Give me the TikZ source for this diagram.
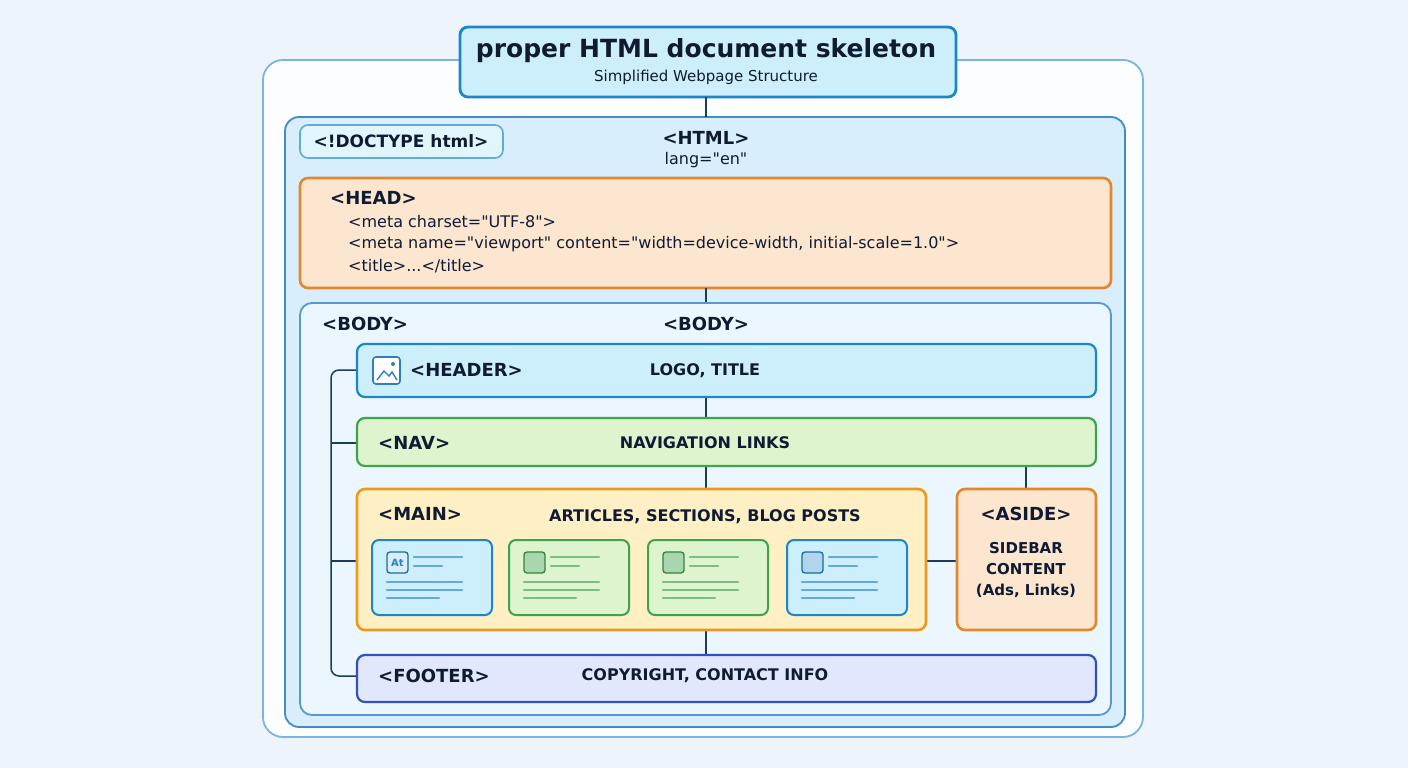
\documentclass[tikz,border=0pt]{standalone}
\usepackage{fontspec}
\setmainfont{DejaVu Sans}[Ligatures=ResetAll]
\usetikzlibrary{positioning}
\definecolor{bg}{HTML}{EEF4FB}
\definecolor{dark}{HTML}{0F1B33}
\definecolor{blueB}{HTML}{2E7FC0}
\definecolor{blueF}{HTML}{D8EEFC}
\definecolor{cyanF}{HTML}{CDEFFC}
\definecolor{cyanB}{HTML}{1E86C8}
\definecolor{orB}{HTML}{E3872E}
\definecolor{orF}{HTML}{FDE6CF}
\definecolor{grB}{HTML}{3FA34D}
\definecolor{grF}{HTML}{DDF4CF}
\definecolor{yeF}{HTML}{FEF0C4}
\definecolor{yeB}{HTML}{EC9A1E}
\definecolor{ftF}{HTML}{E1E7FD}
\definecolor{ftB}{HTML}{3350C0}
\definecolor{lineC}{HTML}{1D3C5C}
\newcommand\qq{\textquotedbl}
\tikzset{x=1pt,y=-1pt,
 box/.style={rounded corners=8pt,line width=2.2pt},
 t/.style={text=dark,font=\bfseries\fontsize{18}{21}\selectfont,inner sep=0},
 s/.style={text=dark,font=\fontsize{16}{19}\selectfont,inner sep=0},
 c/.style={text=dark,font=\bfseries\fontsize{16}{19}\selectfont,inner sep=0},
 conn/.style={draw=lineC,line width=1.5pt},
 card/.style={rounded corners=7pt,line width=2pt},
 cl/.style={line width=2.5pt,line cap=round}}
\begin{document}
\begin{tikzpicture}
\useasboundingbox (0,0) rectangle (1408,768);
\fill[bg] (0,0) rectangle (1408,768);
% outer
\draw[rounded corners=20pt,line width=1.8pt,draw=cyanB!60,fill=white!85!bg] (263,60) rectangle (1143,737);
% html
\draw[box,draw=blueB!90,fill=blueF,line width=1.8pt,rounded corners=14pt] (285,117) rectangle (1125,727);
\node[coordinate] (htmltop) at (706,117) {};
% title
\draw[box,draw=cyanB,fill=cyanF,line width=2.8pt] (460,27) rectangle (956,97);
\node[coordinate] (titlebot) at (706,97) {};
\node[text=dark,font=\bfseries\fontsize{25}{30}\selectfont,inner sep=0] (title) at (706,51) {proper HTML document skeleton};
\node[s,font=\fontsize{15}{19}\selectfont] (sub) at (706,77) {Simplified Webpage Structure};
\draw[conn] (titlebot) -- (htmltop);
% doctype
\draw[box,draw=cyanB!70,fill=cyanF!60,line width=1.6pt] (300,125) rectangle (503,158);
\node[t,font=\bfseries\fontsize{17}{20}\selectfont] (doctype) at (401,141) {<!DOCTYPE html>};
\node[t] (html) at (706,138) {<HTML>};
\node[s] (lang) at (706,160) {lang=\qq en\qq};
% head
\draw[box,draw=orB,fill=orF,line width=2.6pt] (300,178) rectangle (1111,288);
\node[t,anchor=west] (head) at (330,198) {<HEAD>};
\node[s,anchor=west] (m1) at (348,222) {<meta charset=\qq UTF-8\qq>};
\node[s,anchor=west] (m2) at (348,244) {<meta name=\qq viewport\qq{} content=\qq width=device-width, initial-scale=1.0\qq>};
\node[s,anchor=west] (m3) at (348,266) {<title>...</title>};
\draw[conn] (706,288) -- (706,303);
% body
\draw[box,draw=blueB!80,fill=blueF!50!white,line width=1.8pt,rounded corners=12pt] (300,303) rectangle (1111,715);
\node[t,anchor=west] (body1) at (322,324) {<BODY>};
\node[t] (body2) at (706,324) {<BODY>};
% connectors
\draw[conn] (706,397) -- (706,418);
\draw[conn] (706,466) -- (706,489);
\draw[conn] (706,630) -- (706,655);
\draw[conn] (1026,466) -- (1026,489);
\draw[conn] (926,561) -- (957,561);
\draw[conn,rounded corners=8pt] (357,370) -- (331,370) -- (331,676) -- (357,676);
\draw[conn] (331,443) -- (357,443);
\draw[conn] (331,561) -- (357,561);
% header
\draw[box,draw=cyanB,fill=cyanF] (357,344) rectangle (1096,397);
\draw[rounded corners=3pt,line width=1.6pt,draw=blueB,fill=white] (373,357) rectangle (400,384);
\draw[line width=1.4pt,draw=blueB] (377,380) -- (384,371) -- (389,376) -- (392,372) -- (397,380);
\fill[blueB] (393,364) circle (2pt);
\node[t,anchor=west] (header) at (410,370) {<HEADER>};
\node[c] (logo) at (705,371) {LOGO, TITLE};
% nav
\draw[box,draw=grB,fill=grF] (357,418) rectangle (1096,466);
\node[t,anchor=west] (nav) at (378,443) {<NAV>};
\node[c] (navl) at (705,443) {NAVIGATION LINKS};
% main
\draw[box,draw=yeB,fill=yeF,line width=2.6pt] (357,489) rectangle (926,630);
\node[t,anchor=west] (main) at (378,514) {<MAIN>};
\node[c] (art) at (705,517) {ARTICLES, SECTIONS, BLOG POSTS};
% cards
\foreach \x/\f/\b/\sq in {372/cyanF/cyanB/blueF,509/grF/grB/grB!45,648/grF/grB/grB!45,787/cyanF/cyanB/cyanB!35}{
 \draw[card,draw=\b,fill=\f] (\x,540) rectangle ++(120,75);
 \draw[rounded corners=3pt,line width=1.3pt,draw=\b!80!black,fill=\sq] (\x+15,552) rectangle ++(21,21);
 \draw[cl,draw=\b!70] (\x+42,557) -- ++(48,0);
 \draw[cl,draw=\b!70] (\x+42,566) -- ++(28,0);
 \draw[cl,draw=\b!70] (\x+15,582) -- ++(75,0);
 \draw[cl,draw=\b!70] (\x+15,590) -- ++(75,0);
 \draw[cl,draw=\b!70] (\x+15,598) -- ++(52,0);
}
\node[text=blueB,font=\bfseries\fontsize{10}{12}\selectfont,inner sep=0] (at) at (397.5,562.5) {At};
% aside
\draw[box,draw=orB,fill=orF,line width=2.6pt] (957,489) rectangle (1096,630);
\node[t] (aside) at (1026,514) {<ASIDE>};
\node[c,align=center,font=\bfseries\fontsize{15}{18}\selectfont] (side) at (1026,570) {SIDEBAR\\[3pt]CONTENT\\[3pt](Ads, Links)};
% footer
\draw[box,draw=ftB,fill=ftF] (357,655) rectangle (1096,702);
\node[t,anchor=west] (footer) at (378,676) {<FOOTER>};
\node[c] (copy) at (705,676) {COPYRIGHT, CONTACT INFO};
\end{tikzpicture}
\end{document}
